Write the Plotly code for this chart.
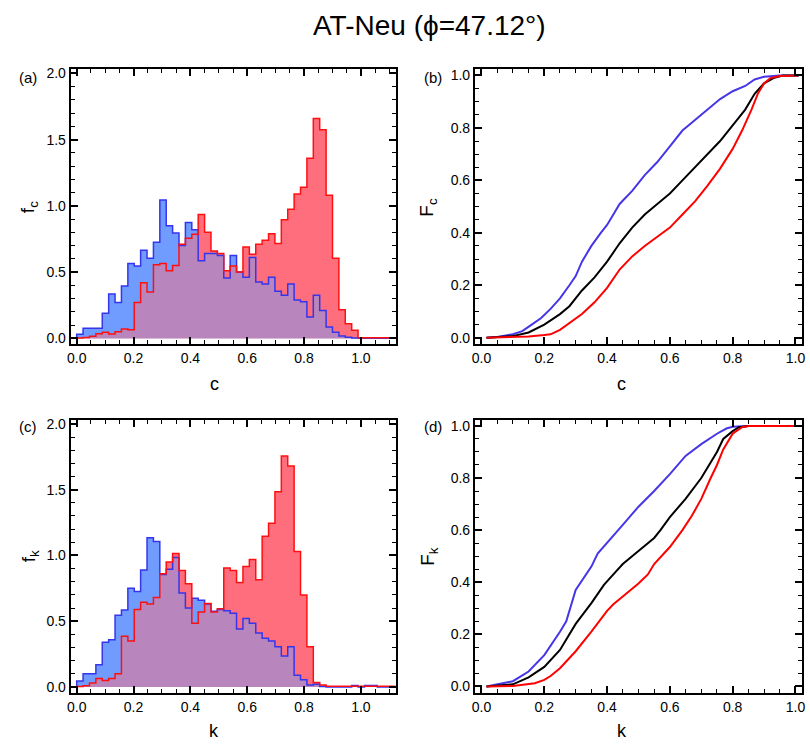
import numpy as np
import plotly.graph_objects as go

# ---------------- data ----------------
BIN_WIDTH = 0.0225
N_BINS = 50

c_hist_blue = [0.03, 0.075, 0.075, 0.075, 0.19, 0.335, 0.27, 0.395, 0.565, 0.545,
               0.665, 0.605, 0.725, 1.045, 0.85, 0.795, 0.70, 0.875, 0.82, 0.585,
               0.64, 0.64, 0.625, 0.455, 0.625, 0.50, 0.46, 0.61, 0.425, 0.41,
               0.46, 0.355, 0.325, 0.41, 0.29, 0.275, 0.16, 0.325, 0.21, 0.085,
               0.045, 0.018, 0.008, 0.002, 0.0, 0.0, 0.0, 0.0, 0.0, 0.0]
c_hist_red = [0.003, 0.005, 0.015, 0.035, 0.045, 0.033, 0.05, 0.07, 0.065, 0.27,
              0.42, 0.35, 0.555, 0.565, 0.51, 0.55, 0.71, 0.755, 0.785, 0.935,
              0.80, 0.66, 0.64, 0.51, 0.545, 0.50, 0.69, 0.635, 0.71, 0.74,
              0.79, 0.715, 0.895, 0.975, 1.09, 1.14, 1.36, 1.66, 1.575, 1.08,
              0.605, 0.215, 0.11, 0.06, 0.004, 0.004, 0.004, 0.004, 0.004, 0.004]
k_hist_blue = [0.045, 0.10, 0.10, 0.17, 0.34, 0.36, 0.545, 0.585, 0.75, 0.725,
               0.89, 1.135, 1.105, 0.855, 0.895, 0.985, 0.715, 0.60, 0.675, 0.66,
               0.63, 0.575, 0.59, 0.58, 0.56, 0.44, 0.52, 0.485, 0.41, 0.37,
               0.35, 0.305, 0.235, 0.305, 0.09, 0.055, 0.015, 0.02, 0.003, 0.0,
               0.0, 0.0, 0.0, 0.012, 0.0, 0.012, 0.012, 0.0, 0.0, 0.0]
k_hist_red = [0.003, 0.01, 0.03, 0.065, 0.05, 0.065, 0.10, 0.385, 0.35, 0.59,
              0.645, 0.63, 0.68, 0.86, 0.95, 1.015, 0.885, 0.785, 0.485, 0.57,
              0.635, 0.57, 0.595, 0.905, 0.885, 0.795, 0.915, 0.97, 0.815, 1.145,
              1.245, 1.485, 1.755, 1.68, 1.03, 0.70, 0.305, 0.035, 0.015, 0.005,
              0.005, 0.005, 0.005, 0.005, 0.005, 0.005, 0.005, 0.005, 0.005, 0.005]

# cumulative distributions (panel b: c, panel d: k)
Fc_blue_x = [0.016, 0.05, 0.10, 0.13, 0.16, 0.19, 0.22, 0.25, 0.28, 0.30, 0.32, 0.35, 0.38,
             0.40, 0.44, 0.48, 0.52, 0.56, 0.60, 0.64, 0.68, 0.72, 0.76, 0.80, 0.84,
             0.87, 0.90, 0.95, 1.01]
Fc_blue_y = [0.0, 0.003, 0.013, 0.025, 0.05, 0.075, 0.11, 0.15, 0.2, 0.235, 0.29, 0.35, 0.40,
             0.43, 0.51, 0.56, 0.62, 0.67, 0.73, 0.79, 0.83, 0.87, 0.91, 0.94, 0.96,
             0.985, 0.995, 1.0, 1.0]
Fc_black_x = [0.016, 0.10, 0.15, 0.20, 0.25, 0.28, 0.32, 0.36, 0.40, 0.44, 0.48, 0.52, 0.56,
              0.60, 0.64, 0.68, 0.72, 0.76, 0.80, 0.84, 0.87, 0.90, 0.93, 0.96, 1.01]
Fc_black_y = [0.0, 0.006, 0.02, 0.05, 0.09, 0.12, 0.18, 0.23, 0.29, 0.36, 0.42, 0.47, 0.51,
              0.55, 0.60, 0.65, 0.70, 0.75, 0.81, 0.87, 0.93, 0.97, 0.99, 1.0, 1.0]
Fc_red_x = [0.016, 0.10, 0.15, 0.20, 0.22, 0.25, 0.28, 0.32, 0.36, 0.40, 0.44, 0.48, 0.52,
            0.56, 0.60, 0.64, 0.68, 0.72, 0.76, 0.80, 0.83, 0.86, 0.88, 0.90, 0.92, 0.95, 1.01]
Fc_red_y = [0.0, 0.002, 0.005, 0.01, 0.013, 0.03, 0.055, 0.09, 0.135, 0.19, 0.26, 0.31, 0.35,
            0.385, 0.42, 0.47, 0.52, 0.58, 0.645, 0.72, 0.79, 0.87, 0.93, 0.97, 0.99, 0.998, 1.0]

Fk_blue_x = [0.016, 0.10, 0.15, 0.20, 0.25, 0.27, 0.30, 0.35, 0.37, 0.40, 0.45, 0.50, 0.55,
             0.60, 0.65, 0.70, 0.75, 0.78, 0.80, 0.85, 1.01]
Fk_blue_y = [0.0, 0.02, 0.057, 0.12, 0.21, 0.25, 0.37, 0.46, 0.51, 0.55, 0.62, 0.69, 0.75,
             0.815, 0.885, 0.93, 0.97, 0.99, 0.997, 1.0, 1.0]
Fk_black_x = [0.016, 0.10, 0.15, 0.20, 0.25, 0.28, 0.30, 0.35, 0.39, 0.42, 0.45, 0.50, 0.55,
              0.57, 0.60, 0.65, 0.70, 0.75, 0.77, 0.80, 0.82, 0.85, 1.01]
Fk_black_y = [0.0, 0.008, 0.035, 0.075, 0.14, 0.20, 0.24, 0.32, 0.39, 0.43, 0.47, 0.52, 0.57,
              0.60, 0.65, 0.72, 0.80, 0.90, 0.95, 0.98, 0.995, 1.0, 1.0]
Fk_red_x = [0.016, 0.10, 0.17, 0.20, 0.22, 0.25, 0.30, 0.35, 0.40, 0.42, 0.45, 0.50, 0.53,
            0.55, 0.60, 0.64, 0.67, 0.70, 0.73, 0.75, 0.77, 0.80, 0.83, 0.85, 1.01]
Fk_red_y = [0.0, 0.002, 0.012, 0.025, 0.04, 0.07, 0.135, 0.21, 0.29, 0.315, 0.345, 0.395, 0.43,
            0.47, 0.535, 0.60, 0.655, 0.72, 0.80, 0.85, 0.91, 0.97, 0.995, 1.0, 1.0]

# ---------------- styles ----------------
W, H = 810, 747
FONT = "Liberation Sans, Arial, Helvetica, sans-serif"
BLUE_FILL = "#709bff"
RED_FILL = "#ff6e7d"
PURPLE_FILL = "#b886bc"
BLUE_LINE = "#3535ee"
RED_LINE = "#ff1010"
CDF_BLUE = "#4636e6"
CDF_RED = "#ff0000"


def px_x(p):
    return p / W


def px_y(p):
    return 1 - p / H


fig = go.Figure()

edges = BIN_WIDTH * np.arange(N_BINS + 1)


def step_xy(vals):
    vals = list(vals)
    xs = [edges[0]] + list(edges) + [edges[-1]]
    ys = [0.0] + vals + [vals[-1], 0.0]
    return xs, ys


def add_hist(blue, red, xa, ya):
    overlap = np.minimum(np.array(blue), np.array(red))
    for vals, col in [(blue, BLUE_FILL), (red, RED_FILL), (overlap, PURPLE_FILL)]:
        xs, ys = step_xy(vals)
        fig.add_trace(go.Scatter(x=xs, y=ys, mode="lines", line=dict(width=0, shape="hv"),
                                 fill="tozeroy", fillcolor=col, xaxis=xa, yaxis=ya,
                                 showlegend=False, hoverinfo="skip"))
    for vals, col in [(blue, BLUE_LINE), (red, RED_LINE)]:
        xs, ys = step_xy(vals)
        fig.add_trace(go.Scatter(x=xs, y=ys, mode="lines", line=dict(width=1.5, shape="hv", color=col),
                                 xaxis=xa, yaxis=ya, showlegend=False, hoverinfo="skip"))


def add_cdf(curves, xa, ya):
    for xs, ys, col in curves:
        fig.add_trace(go.Scatter(x=xs, y=ys, mode="lines", line=dict(width=2, color=col),
                                 xaxis=xa, yaxis=ya, showlegend=False, hoverinfo="skip"))


add_hist(c_hist_blue, c_hist_red, "x", "y")
add_cdf([(Fc_blue_x, Fc_blue_y, CDF_BLUE), (Fc_black_x, Fc_black_y, "black"),
         (Fc_red_x, Fc_red_y, CDF_RED)], "x2", "y2")
add_hist(k_hist_blue, k_hist_red, "x3", "y3")
add_cdf([(Fk_blue_x, Fk_blue_y, CDF_BLUE), (Fk_black_x, Fk_black_y, "black"),
         (Fk_red_x, Fk_red_y, CDF_RED)], "x4", "y4")


def axis(domain, rng, dtick, minor_dtick, anchor):
    return dict(domain=domain, range=rng, anchor=anchor, dtick=dtick, tick0=0,
                tickformat=".1f", ticks="inside", ticklen=7, tickwidth=1.5, tickcolor="black",
                minor=dict(dtick=minor_dtick, tick0=0, ticks="inside", ticklen=4,
                           tickwidth=1.2, tickcolor="black"),
                showline=True, linecolor="black", linewidth=2, mirror="ticks",
                showgrid=False, zeroline=False,
                tickfont=dict(family=FONT, size=14, color="black"))


XL = [px_x(67.3), px_x(395)]
XR = [px_x(475), px_x(805)]
YT = [px_y(343), px_y(66)]
YB = [px_y(694.5), px_y(419.3)]

fig.update_layout(
    width=W, height=H, margin=dict(l=0, r=0, t=0, b=0),
    paper_bgcolor="white", plot_bgcolor="white",
    xaxis=axis(XL, [-0.021, 1.122], 0.2, 0.05, "y"),
    yaxis=axis(YT, [-0.045, 2.03], 0.5, 0.1, "x"),
    xaxis2=axis(XR, [-0.021, 1.021], 0.2, 0.05, "y2"),
    yaxis2=axis(YT, [-0.025, 1.023], 0.2, 0.05, "x2"),
    xaxis3=axis(XL, [-0.021, 1.122], 0.2, 0.05, "y3"),
    yaxis3=axis(YB, [-0.045, 2.03], 0.5, 0.1, "x3"),
    xaxis4=axis(XR, [-0.021, 1.021], 0.2, 0.05, "y4"),
    yaxis4=axis(YB, [-0.025, 1.023], 0.2, 0.05, "x4"),
)

annots = [
    ("AT-Neu (ϕ=47.12°)", 429, 22, 28, 0),
    ("(a)", 24, 74, 15, 0), ("(b)", 433, 74, 15, 0),
    ("(c)", 24, 426, 15, 0), ("(d)", 433, 426, 15, 0),
    ("c", 212, 383, 18, 0), ("c", 623, 383, 18, 0),
    ("k", 212, 733, 18, 0), ("k", 623, 733, 18, 0),
    ("f<sub>c</sub>", 26, 205, 19, -90), ("F<sub>c</sub>", 428, 205, 19, -90),
    ("f<sub>k</sub>", 26, 557, 19, -90), ("F<sub>k</sub>", 428, 557, 19, -90),
]
for text, x, y, size, ang in annots:
    fig.add_annotation(text=text, x=px_x(x), y=px_y(y), xref="paper", yref="paper",
                       xanchor="center", yanchor="middle", showarrow=False, textangle=ang,
                       font=dict(family=FONT, size=size, color="black"))

fig.write_html("out.html")
